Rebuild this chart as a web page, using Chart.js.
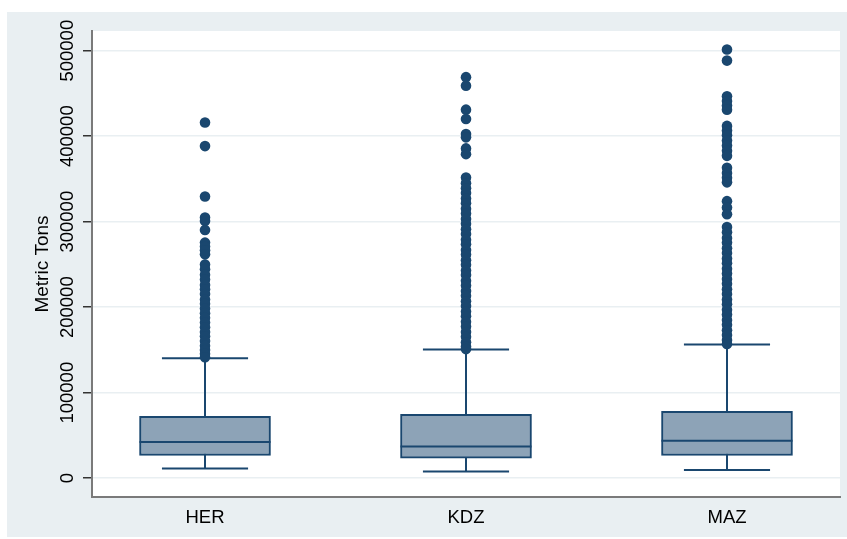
<!DOCTYPE html>
<html>
<head>
<meta charset="utf-8">
<script src="https://cdn.jsdelivr.net/npm/chart.js@4"></script>
<style>
  html, body { margin: 0; padding: 0; background: #fff; }
  #wrap { width: 847px; height: 539px; }
</style>
</head>
<body>
<div id="wrap"><canvas id="myChart"></canvas></div>
<script>
// box plot values (metric tons)
const categories = ["HER", "KDZ", "MAZ"];
const lowerWhisker = [11300, 7700, 9700];
const q1 = [26500, 23400, 26500];
const median = [42200, 37000, 43700];
const q3 = [72200, 74600, 78100];
const upperWhisker = [140200, 150400, 156300];

const outliersHER = [
  416000, 388400, 329400, 304800, 300800, 290300, 275500, 271000, 266500, 261800,
  250000, 244500, 238000, 232500, 226000, 221000, 215500, 209000, 204000, 198500,
  193000, 187500, 182000, 176500, 171000, 166000, 160500, 155000, 150000, 145500, 141500,
];
const outliersKDZ = [
  469000, 459000, 431000, 420000, 402500, 398600, 385700, 379000,
  351700, 345000, 339000, 333500, 327000, 321500, 315000, 309500, 303000, 297500,
  291000, 285500, 279000, 273500, 267000, 261500, 255000, 249500, 243000, 237500,
  231000, 225500, 219000, 213500, 207000, 201500, 195000, 189500, 183000, 177500,
  171000, 165500, 159000, 154000, 151000,
];
const outliersMAZ = [
  501300, 488400, 446700, 441000, 436000, 431000, 412000, 406500, 401000, 395000,
  389000, 383000, 377000, 363000, 357000, 351500, 346000, 324000, 316500, 308700,
  293800, 287500, 281000, 275500, 269000, 263500, 257000, 251500, 245000, 239500,
  233000, 227500, 221000, 215500, 209000, 203500, 197000, 191500, 185000, 179500,
  173000, 167500, 161500, 157000,
];
const outliers = [outliersHER, outliersKDZ, outliersMAZ];

const yTicks = [0, 100000, 200000, 300000, 400000, 500000];

const navy = "#1a476f";
const boxFill = "#8da3b7";
const capHalf = 0.165;
const boxHalf = 0.251;

Chart.defaults.font.family = "'Liberation Sans', Arial, sans-serif";

let datasets = [];

categories.forEach((name, i) => {
  const x = i + 1;
  datasets.push({
    type: "line",
    data: [{ x: x, y: lowerWhisker[i] }, { x: x, y: upperWhisker[i] }],
    borderColor: navy, borderWidth: 2, pointRadius: 0, order: 4,
  });
  [lowerWhisker[i], upperWhisker[i]].forEach((v) => {
    datasets.push({
      type: "line",
      data: [{ x: x - capHalf, y: v }, { x: x + capHalf, y: v }],
      borderColor: navy, borderWidth: 2, pointRadius: 0, order: 3,
    });
  });
  datasets.push({
    type: "line",
    data: [{ x: x - boxHalf, y: median[i] }, { x: x + boxHalf, y: median[i] }],
    borderColor: navy, borderWidth: 2, pointRadius: 0, order: 1,
  });
  datasets.push({
    type: "scatter",
    data: outliers[i].map((v) => ({ x: x, y: v })),
    pointRadius: 5.3,
    pointBackgroundColor: navy,
    pointBorderWidth: 0,
    order: 0,
  });
});

datasets.push({
  type: "bar",
  data: categories.map((_, i) => ({ x: i + 1, y: [q1[i], q3[i]] })),
  backgroundColor: boxFill,
  borderColor: navy,
  borderWidth: 2,
  borderSkipped: false,
  barThickness: 131,
  order: 2,
});

const backdrop = {
  id: "backdrop",
  beforeDraw(chart) {
    const { ctx, chartArea } = chart;
    ctx.save();
    ctx.fillStyle = "#ffffff";
    ctx.fillRect(0, 0, chart.width, chart.height);
    ctx.fillStyle = "#e9eff2";
    ctx.fillRect(7, 12, chart.width - 7, 525);
    ctx.fillStyle = "#ffffff";
    ctx.fillRect(chartArea.left, chartArea.top, chartArea.right - chartArea.left, chartArea.bottom - chartArea.top);
    ctx.restore();
  },
};

// vertical y tick labels, Stata style
const yLabels = {
  id: "yLabels",
  afterDraw(chart) {
    const { ctx } = chart;
    const scale = chart.scales.y;
    ctx.save();
    ctx.fillStyle = "#000";
    ctx.font = "18.5px 'Liberation Sans', Arial, sans-serif";
    ctx.textAlign = "center";
    ctx.textBaseline = "middle";
    scale.ticks.forEach((t) => {
      const y = scale.getPixelForValue(t.value);
      ctx.save();
      ctx.translate(68, y);
      ctx.rotate(-Math.PI / 2);
      ctx.fillText(String(t.value), 0, 0);
      ctx.restore();
    });
    ctx.restore();
  },
};

new Chart(document.getElementById("myChart"), {
  type: "bar",
  data: { datasets },
  plugins: [backdrop, yLabels],
  options: {
    responsive: true,
    maintainAspectRatio: false,
    animation: false,
    layout: { padding: { top: 31, right: 7, left: 0, bottom: 0 } },
    plugins: { legend: { display: false }, tooltip: { enabled: false } },
    scales: {
      x: {
        type: "linear",
        min: 0.567,
        max: 3.433,
        offset: false,
        grid: { display: false, offset: false },
        border: { color: "#7a7a7a", width: 2 },
        afterBuildTicks: (scale) => {
          scale.ticks = categories.map((_, i) => ({ value: i + 1 }));
        },
        afterFit: (scale) => { scale.height = 42; },
        ticks: {
          color: "#000",
          font: { size: 18.5 },
          padding: 2,
          maxRotation: 0,
          callback: (v) => categories[v - 1],
        },
      },
      y: {
        type: "linear",
        min: -22000,
        max: 523000,
        afterBuildTicks: (scale) => {
          scale.ticks = yTicks.map((v) => ({ value: v }));
        },
        afterFit: (scale) => { scale.width = 92; },
        grid: {
          color: "#e9eff2",
          lineWidth: 1.5,
          tickColor: "#333",
          tickLength: 9,
          tickWidth: 1.5,
        },
        border: { color: "#7a7a7a", width: 2 },
        ticks: { display: false },
        title: {
          display: true,
          text: "Metric Tons",
          color: "#000",
          font: { size: 19 },
          padding: { top: 31, bottom: 0 },
        },
      },
    },
  },
});
</script>
</body>
</html>
